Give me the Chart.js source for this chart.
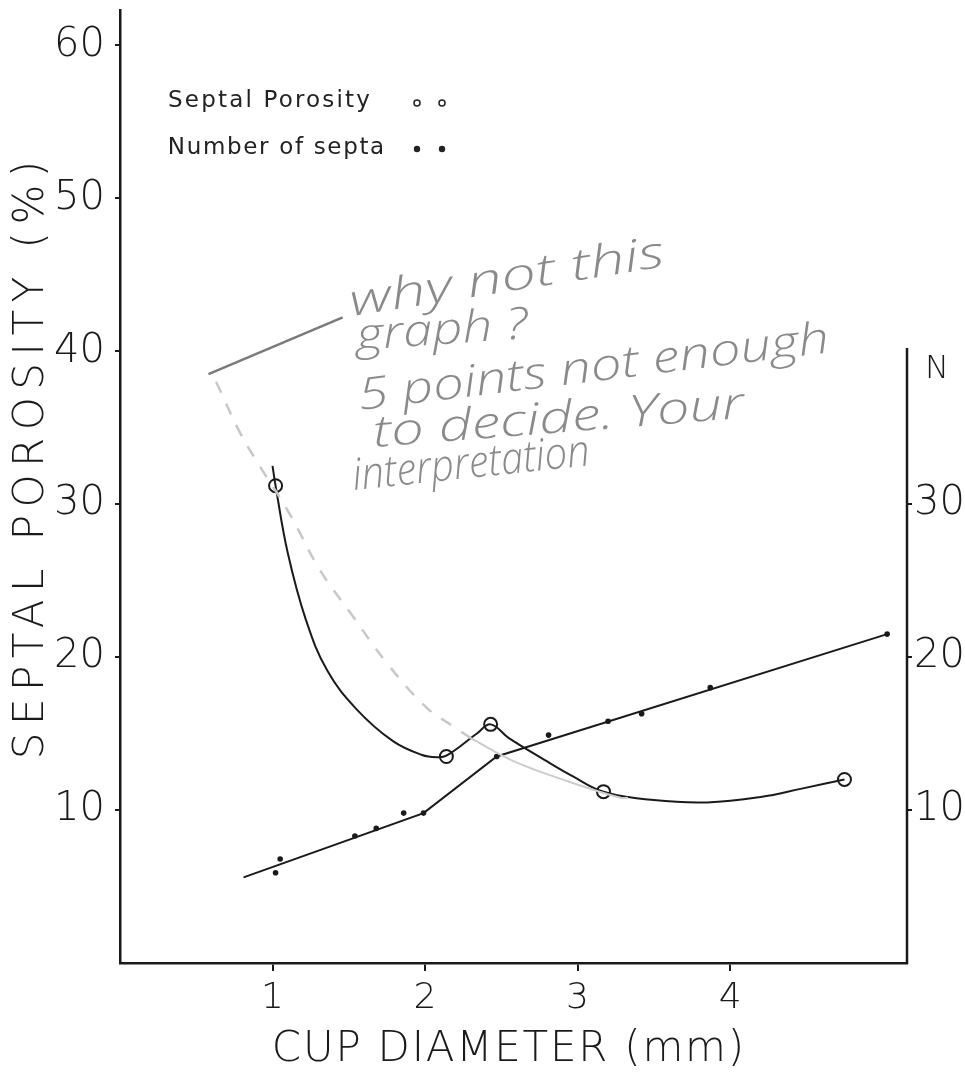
<!DOCTYPE html>
<html>
<head>
<meta charset="utf-8">
<script src="https://cdn.jsdelivr.net/npm/chart.js@4.4.1/dist/chart.umd.min.js"></script>
<style>
  html, body { margin: 0; padding: 0; background: #fff; }
  #wrap { width: 965px; height: 1080px; position: relative; }
</style>
</head>
<body>
<div id="wrap"><canvas id="myChart"></canvas></div>
<script>
// septal porosity (%) against cup diameter (mm), open circles
const porosityDiam = [1.02, 2.14, 2.43, 3.17, 4.75];
const porosityVal  = [31.2, 13.5, 15.6, 11.2, 12.0];

// the hand drawn curve through the circles
const curveDiam = [1.00, 1.02, 1.10, 1.22, 1.36, 1.55, 1.79, 1.98, 2.08, 2.14, 2.34, 2.43, 2.55, 2.78, 2.97, 3.17, 3.50, 3.85, 4.20, 4.47, 4.75];
const curveVal  = [32.5, 31.2, 26.8, 22.4, 19.1, 16.6, 14.5, 13.6, 13.45, 13.55, 15.0, 15.6, 14.7, 13.3, 12.2, 11.2, 10.65, 10.5, 10.85, 11.4, 12.0];

// number of septa (N), black dots
const septaDiam = [1.02, 1.05, 1.54, 1.68, 1.86, 1.99, 2.47, 2.81, 3.20, 3.42, 3.87, 5.03];
const septaN    = [5.9, 6.8, 8.3, 8.8, 9.8, 9.8, 13.5, 14.9, 15.8, 16.3, 18.0, 21.5];

// straight line drawn through the septa
const fitDiam = [0.81, 1.99, 2.47, 5.03];
const fitN    = [5.6, 9.8, 13.5, 21.5];

// pencil notes added on the print
const pencilDiam = [0.63, 0.78, 0.89, 1.11, 1.31, 1.51, 1.75, 2.01, 2.18, 2.30];
const pencilVal  = [38.0, 34.8, 32.9, 29.4, 25.7, 22.9, 19.6, 16.7, 15.5, 14.7];
const pencilTailDiam = [2.30, 2.58, 2.93, 3.28, 3.33];
const pencilTailVal  = [14.7, 13.2, 11.9, 10.8, 10.8];
const strokeDiam = [0.58, 1.46];
const strokeVal  = [38.5, 42.2];
const notes = ['why not this', 'graph ?', '5 points not enough', 'to decide. Your', 'interpretation'];

const xTicks = [1, 2, 3, 4];
const leftTicks = [10, 20, 30, 40, 50, 60];
const rightTicks = [10, 20, 30];
const rightAxisTop = 40.2;

const legendLabels = ['Septal Porosity', 'Number of septa'];
const xTitle = 'CUP DIAMETER (mm)';
const yTitle = 'SEPTAL POROSITY (%)';
const nTitle = 'N';

function pts(xs, ys){
    return xs.map((x, i) => ({x: x, y: ys[i]}));
}

// where the pencil lines sit: x, y, width, angle
const noteLayout = [
    [352, 316, 318, -9],
    [357, 350, 172, -4],
    [360, 410, 474, -7],
    [374, 447, 372, -4.5],
    [354, 490, 238, -6]
];

function spaced(ctx, text, x, y, target){
    ctx.letterSpacing = '0px';
    const w = ctx.measureText(text).width;
    const ls = (target - w) / text.length;
    ctx.letterSpacing = ls + 'px';
    ctx.fillText(text, x - target / 2 + ls / 2, y);
    ctx.letterSpacing = '0px';
}

const decor = {
    id: 'decor',
    beforeDraw(chart){
        const ctx = chart.ctx;
        ctx.save();
        ctx.fillStyle = '#fff';
        ctx.fillRect(0, 0, chart.width, chart.height);
        ctx.restore();
    },
    afterDraw(chart){
        const ctx = chart.ctx;
        const area = chart.chartArea;
        const yN = chart.scales.yN;
        ctx.save();
        // right hand axis only runs up to N = 40
        ctx.strokeStyle = '#1a1a1a';
        ctx.lineWidth = 2.5;
        ctx.beginPath();
        ctx.moveTo(area.right, yN.getPixelForValue(0) + 1);
        ctx.lineTo(area.right, yN.getPixelForValue(rightAxisTop));
        ctx.stroke();

        ctx.fillStyle = '#1a1a1a';
        ctx.font = "200 32px 'DejaVu Sans'";
        ctx.textAlign = 'left';
        ctx.textBaseline = 'middle';
        ctx.fillText(nTitle, area.right + 18, yN.getPixelForValue(38.8));

        // axis titles
        ctx.font = "200 42px 'DejaVu Sans'";
        ctx.textAlign = 'left';
        ctx.textBaseline = 'middle';
        spaced(ctx, xTitle, 508, 1050, 474);
        ctx.save();
        ctx.translate(32, 460);
        ctx.rotate(-Math.PI / 2);
        spaced(ctx, yTitle, 0, 0, 606);
        ctx.restore();

        // legend
        ctx.font = "23px 'DejaVu Sans'";
        ctx.fillStyle = '#222';
        ctx.textBaseline = 'middle';
        spaced(ctx, legendLabels[0], 167 + 102, 101, 204);
        spaced(ctx, legendLabels[1], 167 + 109, 148, 218);
        ctx.lineWidth = 1.5;
        ctx.strokeStyle = '#222';
        [417, 442].forEach(x => {
            ctx.beginPath();
            ctx.arc(x, 103, 3, 0, Math.PI * 2);
            ctx.stroke();
            ctx.beginPath();
            ctx.arc(x, 149, 3.2, 0, Math.PI * 2);
            ctx.fill();
        });

        // pencil notes
        ctx.fillStyle = '#8a8a8a';
        ctx.textAlign = 'left';
        ctx.textBaseline = 'alphabetic';
        notes.forEach((t, i) => {
            const [x, y, w, a] = noteLayout[i];
            ctx.save();
            ctx.translate(x, y);
            ctx.rotate(a * Math.PI / 180);
            ctx.font = "italic 300 44px 'Open Sans'";
            const tw = ctx.measureText(t).width;
            ctx.scale(w / tw, 1);
            ctx.fillText(t, 0, 0);
            ctx.restore();
        });
        ctx.restore();
    }
};

Chart.defaults.font.family = "'DejaVu Sans', sans-serif";
Chart.defaults.font.weight = '200';
Chart.defaults.color = '#1a1a1a';

function createChart(){
    const ctx = document.querySelector('#myChart').getContext('2d');
    return new Chart(ctx, {
        type: 'scatter',
        data: {
            datasets: [
                {
                    label: 'pencil',
                    data: pts(pencilDiam, pencilVal),
                    showLine: true,
                    tension: 0.4,
                    borderColor: '#c8c8c8',
                    borderWidth: 2.5,
                    borderDash: [12, 12],
                    pointRadius: 0
                },
                {
                    label: 'pencil tail',
                    data: pts(pencilTailDiam, pencilTailVal),
                    showLine: true,
                    tension: 0.4,
                    borderColor: '#cccccc',
                    borderWidth: 2,
                    pointRadius: 0
                },
                {
                    label: 'stroke',
                    data: pts(strokeDiam, strokeVal),
                    showLine: true,
                    borderColor: '#7a7a7a',
                    borderWidth: 2.5,
                    pointRadius: 0
                },
                {
                    label: 'Number of septa line',
                    data: pts(fitDiam, fitN),
                    yAxisID: 'yN',
                    showLine: true,
                    tension: 0,
                    borderColor: '#1a1a1a',
                    borderWidth: 2,
                    pointRadius: 0
                },
                {
                    label: 'Number of septa',
                    data: pts(septaDiam, septaN),
                    yAxisID: 'yN',
                    pointRadius: 2.8,
                    backgroundColor: '#1a1a1a',
                    borderWidth: 0
                },
                {
                    label: 'porosity curve',
                    data: pts(curveDiam, curveVal),
                    showLine: true,
                    tension: 0.4,
                    borderColor: '#1a1a1a',
                    borderWidth: 2,
                    pointRadius: 0
                },
                {
                    label: 'Septal Porosity',
                    data: pts(porosityDiam, porosityVal),
                    pointRadius: 6.5,
                    pointBorderWidth: 2,
                    borderColor: '#1a1a1a',
                    backgroundColor: '#fff'
                }
            ]
        },
        options: {
            animation: false,
            responsive: true,
            maintainAspectRatio: false,
            layout: { padding: { top: 10, left: 0, right: 0, bottom: 0 } },
            plugins: {
                legend: { display: false },
                tooltip: { enabled: false }
            },
            scales: {
                x: {
                    type: 'linear',
                    min: 0,
                    max: 5.16,
                    afterBuildTicks: s => { s.ticks = xTicks.map(v => ({value: v})); },
                    afterFit: s => { s.height = 117; s.paddingLeft = 0; s.paddingRight = 0; },
                    grid: { drawOnChartArea: false, tickLength: 8, color: '#1a1a1a', lineWidth: 2 },
                    border: { color: '#1a1a1a', width: 2.5 },
                    ticks: { padding: 6, maxRotation: 0, font: { size: 36 } }
                },
                y: {
                    position: 'left',
                    min: 0,
                    max: 62.3,
                    afterBuildTicks: s => { s.ticks = leftTicks.map(v => ({value: v})); },
                    afterFit: s => { s.width = 120; s.paddingTop = 0; s.paddingBottom = 0; },
                    grid: { drawOnChartArea: false, tickLength: 5, color: '#1a1a1a', lineWidth: 2 },
                    border: { color: '#1a1a1a', width: 2.5 },
                    ticks: { padding: 10, font: { size: 40 } }
                },
                yN: {
                    position: 'right',
                    min: 0,
                    max: 62.3,
                    afterBuildTicks: s => { s.ticks = rightTicks.map(v => ({value: v})); },
                    afterFit: s => { s.width = 58; s.paddingTop = 0; s.paddingBottom = 0; },
                    grid: { drawOnChartArea: false, tickLength: 5, color: '#1a1a1a', lineWidth: 2 },
                    border: { display: false },
                    ticks: { padding: 2, font: { size: 40 } }
                }
            }
        },
        plugins: [decor]
    });
}

let myChart = createChart();
</script>
</body>
</html>
